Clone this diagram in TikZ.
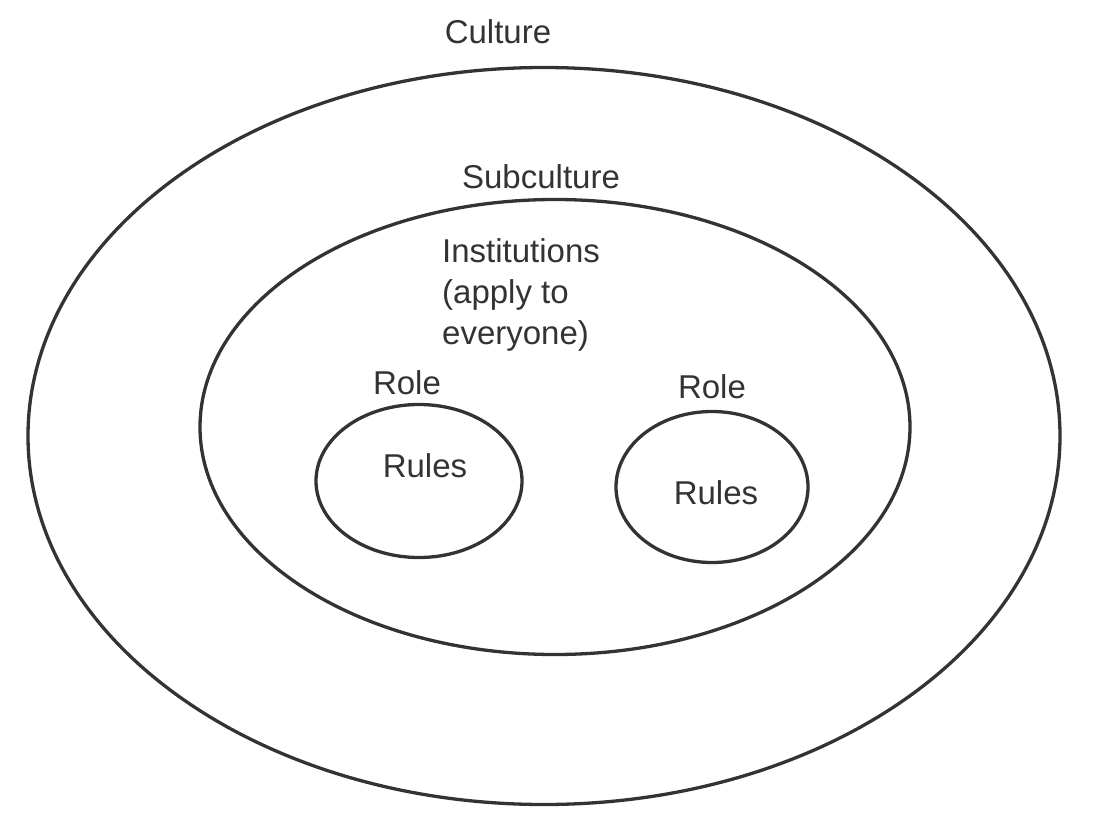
\documentclass[tikz,border=0pt]{standalone}
\usepackage{fontspec}
\setmainfont{Liberation Sans}
\usetikzlibrary{shapes.geometric,positioning}
\definecolor{ink}{HTML}{333333}

\begin{document}
\begin{tikzpicture}[x=1pt, y=-1pt,
  ring/.style={draw=ink, line width=3.3pt, ellipse, inner sep=0pt},
  lbl/.style={text=ink, font=\fontsize{33}{41}\selectfont, inner sep=0pt}]
\useasboundingbox (0,0) rectangle (1109,822);
\node[ring, minimum width=1032pt, minimum height=737pt] (culture) at (544,436) {};
\node[ring, minimum width=710pt, minimum height=455pt] (sub) at (555,427) {};
\node[ring, minimum width=206pt, minimum height=153pt] (roleA) at (419,481) {};
\node[ring, minimum width=192pt, minimum height=151pt] (roleB) at (712,487) {};
\node[lbl] (tculture) at (498,32) {Culture};
\node[lbl] (tsub) at (541,177) {Subculture};
\node[lbl, align=left, anchor=north west] (tinst) at (442,238) {Institutions\\(apply to\\everyone)};
\node[lbl] (troleA) at (407,383) {Role};
\node[lbl] (troleB) at (712,387) {Role};
\node[lbl] (trulesA) at (425,466) {Rules};
\node[lbl] (trulesB) at (716,493) {Rules};
\end{tikzpicture}
\end{document}
